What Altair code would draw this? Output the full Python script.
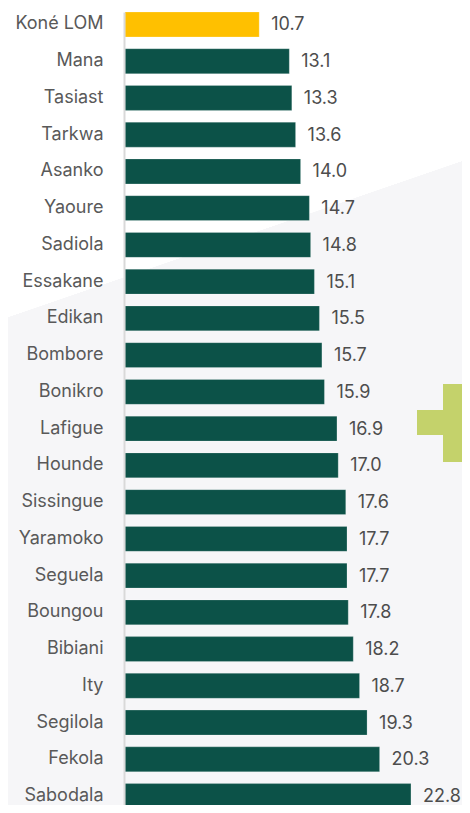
import altair as alt
import pandas as pd

# ---- data ----
mines = ["Koné LOM", "Mana", "Tasiast", "Tarkwa", "Asanko", "Yaoure", "Sadiola",
         "Essakane", "Edikan", "Bombore", "Bonikro", "Lafigue", "Hounde",
         "Sissingue", "Yaramoko", "Seguela", "Boungou", "Bibiani", "Ity",
         "Segilola", "Fekola", "Sabodala"]
values = [10.7, 13.1, 13.3, 13.6, 14.0, 14.7, 14.8, 15.1, 15.5, 15.7, 15.9,
          16.9, 17.0, 17.6, 17.7, 17.7, 17.8, 18.2, 18.7, 19.3, 20.3, 22.8]
highlight = ["Koné LOM"]

df = pd.DataFrame({
    "mine": mines,
    "value": values,
    "group": ["Highlight" if m in highlight else "Peer" for m in mines],
})
one = pd.DataFrame({"d": [0]})

# ---- layout / style ----
W, H = 337, 797
LEFT = 117
FONT = "Inter"
DARK = "#0c5248"
YELLOW = "#FFC000"
LIME = "#c4d26b"
BG_GRAY = "#f6f6f8"

y_enc = alt.Y(
    "mine:N", sort=mines,
    scale=alt.Scale(domain=mines, range=[4, 800.5], paddingInner=0.322, paddingOuter=0),
    axis=alt.Axis(title=None, ticks=False, domain=True, domainColor="#d9d9d9",
                  domainWidth=2, offset=1, labelPadding=21, labelFontSize=18,
                  labelFont=FONT, labelColor="#595959", labelLimit=200, zindex=1,
                  grid=False),
)
x_enc = alt.X("value:Q", scale=alt.Scale(domain=[0, 26.87], nice=False, zero=True), axis=None)

gradient = alt.Gradient(
    gradient="linear", x1=0, y1=0, x2=0.1959, y2=1,
    stops=[alt.GradientStop(color="#ffffff", offset=0),
           alt.GradientStop(color="#ffffff", offset=0.3735),
           alt.GradientStop(color=BG_GRAY, offset=0.3739),
           alt.GradientStop(color=BG_GRAY, offset=1)],
)

bg = alt.Chart(one).mark_rect(color=gradient, clip=False).encode(
    x=alt.value(-LEFT), x2=alt.value(W), y=alt.value(0), y2=alt.value(H))

plus_h = alt.Chart(one).mark_rect(color=LIME, clip=True).encode(
    x=alt.value(292), x2=alt.value(W), y=alt.value(402), y2=alt.value(427))
plus_v = alt.Chart(one).mark_rect(color=LIME, clip=True).encode(
    x=alt.value(318), x2=alt.value(343), y=alt.value(376), y2=alt.value(454))

bars = alt.Chart(df).mark_bar(clip=True, stroke="#ffffff", strokeWidth=0.6, strokeOpacity=0.35).encode(
    x=x_enc, y=y_enc,
    color=alt.Color("group:N", scale=alt.Scale(domain=["Highlight", "Peer"], range=[YELLOW, DARK]),
                    legend=None),
)

labels = alt.Chart(df).mark_text(align="left", baseline="middle", dx=12, dy=1,
                                 fontSize=18, font=FONT, color="#4d4d4d").encode(
    x=x_enc, y=y_enc, text=alt.Text("value:Q", format=".1f"))

chart = alt.layer(bg, plus_h, plus_v, bars, labels).properties(
    width=W, height=H,
    autosize=alt.AutoSizeParams(type="none"),
    padding={"left": LEFT, "top": 0, "right": 0, "bottom": 0},
    background="#ffffff",
).configure_view(stroke=None)

chart.save("out.html", embed_options={"renderer": "svg", "actions": False})
